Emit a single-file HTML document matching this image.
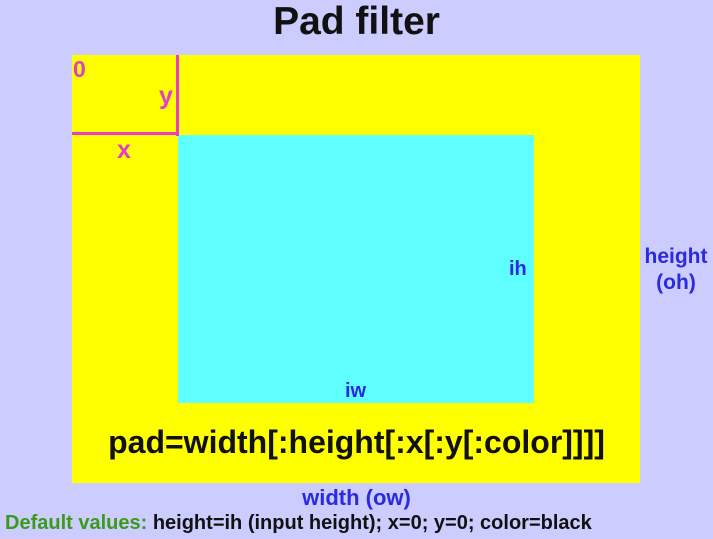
<!DOCTYPE html>
<html><head><meta charset="utf-8"><style>
body{margin:0;width:713px;height:539px;background:#ccccff;position:relative;overflow:hidden;font-family:"Liberation Sans",sans-serif;font-weight:bold}
div{position:absolute}
.t{white-space:nowrap}
</style></head><body>
<div class="t" style="left:0;width:713px;text-align:center;top:0px;font-size:39px;color:#111">Pad filter</div>
<div style="left:72px;top:55px;width:568px;height:428px;background:#ffff00"></div>
<div style="left:178px;top:135px;width:356px;height:268px;background:#5fffff"></div>
<div style="left:176px;top:55px;width:3px;height:81px;background:#e83ec8"></div>
<div style="left:72px;top:132px;width:107px;height:3px;background:#e83ec8"></div>
<div class="t" style="left:73px;top:56px;font-size:23px;color:#e040c8">0</div>
<div class="t" style="left:159px;top:82px;font-size:25px;color:#e040c8">y</div>
<div class="t" style="left:117px;top:136px;font-size:25px;color:#e040c8">x</div>
<div class="t" style="left:509px;top:258px;font-size:20px;color:#2a2ae0">ih</div>
<div class="t" style="left:345px;top:380px;font-size:20px;color:#2a2ae0">iw</div>
<div class="t" style="left:636px;width:80px;text-align:center;top:244px;font-size:21px;line-height:26px;color:#2a2ae0">height<br>(oh)</div>
<div class="t" style="left:0;width:713px;text-align:center;top:424px;font-size:32px;color:#111">pad=width[:height[:x[:y[:color]]]]</div>
<div class="t" style="left:0;width:713px;text-align:center;top:485px;font-size:22px;color:#2a2ae0">width (ow)</div>
<div class="t" style="left:5px;top:512px;font-size:20px;color:#111"><span style="color:#3a9a1a">Default values:</span> height=ih (input height); x=0; y=0; color=black</div>
</body></html>
